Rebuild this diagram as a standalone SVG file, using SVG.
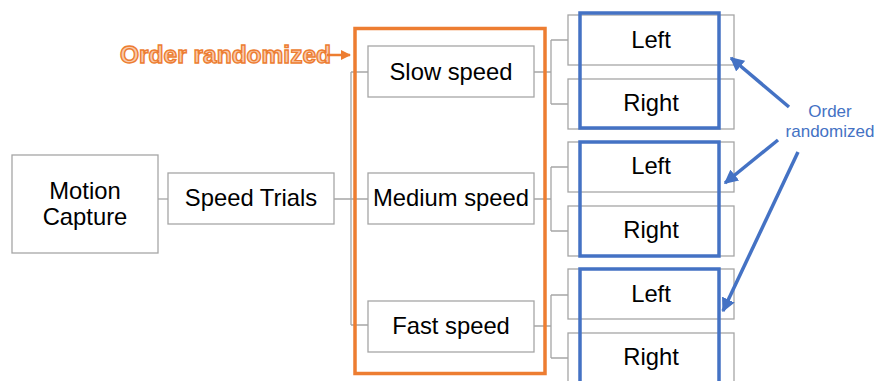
<svg xmlns="http://www.w3.org/2000/svg" width="878" height="381" viewBox="0 0 878 381">
<style>
.box{fill:#fff;stroke:#a6a6a6;stroke-width:1.3}
.t{font-family:"Liberation Sans",Arial,sans-serif;font-size:23.8px;fill:#000;text-anchor:middle}
.con{fill:none;stroke:#a6a6a6;stroke-width:1.3}
.blue{fill:none;stroke:#4472c4;stroke-width:3.5}
.barrow{stroke:#4472c4;stroke-width:3.5;fill:none}
</style>
<defs>
<marker id="bh" viewBox="0 0 10 10" refX="9" refY="5" markerWidth="4" markerHeight="4" orient="auto" markerUnits="strokeWidth">
<path d="M0,0 L10,5 L0,10 z" fill="#4472c4"/>
</marker>
<marker id="oh" viewBox="0 0 10 10" refX="9" refY="5" markerWidth="4" markerHeight="4" orient="auto" markerUnits="strokeWidth">
<path d="M0,0 L10,5 L0,10 z" fill="#ed7d31"/>
</marker>
</defs>
<rect width="878" height="381" fill="#fff"/>
<g id="connectors">
<path class="con" d="M158,199 H168"/>
<path class="con" d="M334,199 H351 M351,72 V325 M351,72 H368 M351,199 H368 M351,325 H368"/>
<path class="con" d="M534,72 H551 M551,40 V104 M551,40 H568 M551,104 H568"/>
<path class="con" d="M534,199 H551 M551,167 V231 M551,167 H568 M551,231 H568"/>
<path class="con" d="M534,326 H551 M551,295 V358 M551,295 H568 M551,358 H568"/>
</g>
<g id="motion-capture"><rect class="box" x="12" y="155" width="146" height="98"/><text class="t" x="85" y="199">Motion</text><text class="t" x="85" y="225">Capture</text></g>
<g id="speed-trials"><rect class="box" x="168" y="173" width="166" height="51"/><text class="t" x="251" y="206">Speed Trials</text></g>
<g id="slow"><rect class="box" x="368" y="46" width="166" height="51"/><text class="t" x="451" y="80">Slow speed</text></g>
<g id="medium"><rect class="box" x="368" y="173" width="166" height="51"/><text class="t" x="451" y="206">Medium speed</text></g>
<g id="fast"><rect class="box" x="368" y="301" width="166" height="51"/><text class="t" x="451" y="334">Fast speed</text></g>
<g id="left1"><rect class="box" x="568" y="15" width="166" height="50"/><text class="t" x="651" y="48">Left</text></g>
<g id="right1"><rect class="box" x="568" y="79" width="166" height="50"/><text class="t" x="651" y="111">Right</text></g>
<g id="left2"><rect class="box" x="568" y="142" width="166" height="50"/><text class="t" x="651" y="174">Left</text></g>
<g id="right2"><rect class="box" x="568" y="206" width="166" height="50"/><text class="t" x="651" y="238">Right</text></g>
<g id="left3"><rect class="box" x="568" y="269" width="166" height="50"/><text class="t" x="651" y="302">Left</text></g>
<g id="right3"><rect class="box" x="568" y="333" width="166" height="52"/><text class="t" x="651" y="365">Right</text></g>
<g id="orange-group">
<rect x="355" y="28.5" width="190" height="345" fill="none" stroke="#ed7d31" stroke-width="3.5"/>
<text x="120" y="63" font-family="Liberation Sans,Arial,sans-serif" font-weight="bold" font-size="24.5px" fill="#f8cbad" stroke="#ed7d31" stroke-width="1.4">Order randomized</text>
<path d="M327,55 H350" stroke="#ed7d31" stroke-width="2.5" marker-end="url(#oh)"/>
</g>
<g id="blue-groups">
<rect class="blue" x="580" y="13" width="139" height="115"/>
<rect class="blue" x="580" y="142" width="139" height="114"/>
<rect class="blue" x="580" y="269" width="139" height="120"/>
</g>
<g id="blue-label">
<text x="830" y="117" font-family="Liberation Sans,Arial,sans-serif" font-size="17px" fill="#4472c4" text-anchor="middle">Order</text>
<text x="830" y="137" font-family="Liberation Sans,Arial,sans-serif" font-size="17px" fill="#4472c4" text-anchor="middle">randomized</text>
<path class="barrow" d="M789,107 L731,58" marker-end="url(#bh)"/>
<path class="barrow" d="M778,140 L725,183" marker-end="url(#bh)"/>
<path class="barrow" d="M798,152 L723,311" marker-end="url(#bh)"/>
</g>
</svg>
